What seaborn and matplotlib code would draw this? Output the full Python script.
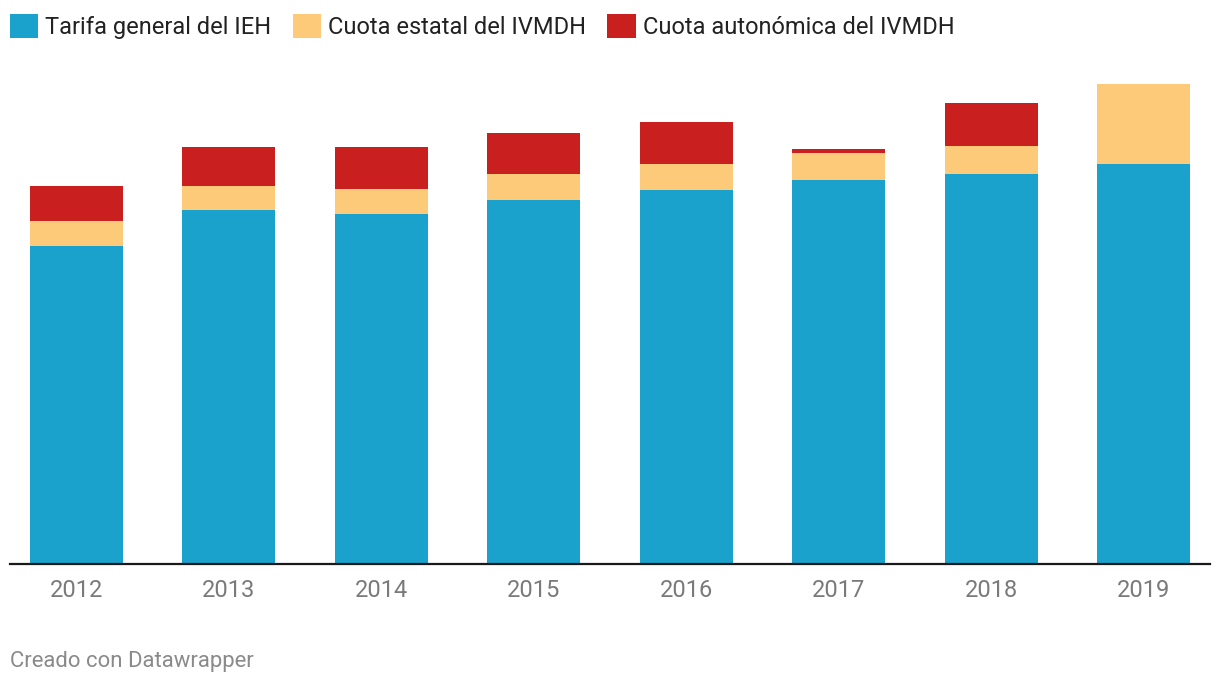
import pandas as pd
import seaborn as sns
from matplotlib import pyplot
from matplotlib.patches import Patch

years = ['2012', '2013', '2014', '2015', '2016', '2017', '2018', '2019']
tarifa_ieh = [318, 354, 350, 364, 374, 384, 390, 400]
cuota_estatal = [25, 24, 25, 26, 26, 27, 28, 80]
cuota_autonomica = [35, 39, 42, 41, 42, 4, 43, 0]

series_names = ['Tarifa general del IEH', 'Cuota estatal del IVMDH', 'Cuota autonómica del IVMDH']
colors = ['#1aa1cc', '#fdca79', '#c91f1f']

sns.set_theme(style='white')
pyplot.rcParams['font.family'] = ['Roboto', 'DejaVu Sans']

df = pd.DataFrame({
    'year': years,
    'ieh': tarifa_ieh,
    'estatal': cuota_estatal,
    'autonomica': cuota_autonomica,
})
df['lvl1'] = df['ieh']
df['lvl2'] = df['lvl1'] + df['estatal']
df['lvl3'] = df['lvl2'] + df['autonomica']

fig = pyplot.figure(figsize=(12.2, 6.88), dpi=100, facecolor='white')
ax = fig.add_axes([10 / 1220, 1 - 564 / 688, 1200 / 1220, 494 / 688])

# stacked bars: draw cumulative totals from the top layer down
for col, color in zip(['lvl3', 'lvl2', 'lvl1'], colors[::-1]):
    sns.barplot(data=df, x='year', y=col, color=color, width=0.61,
                saturation=1, ax=ax, linewidth=0)

ax.set_xlim(-0.436, 7.436)
ax.set_ylim(0, 494)
ax.set_xlabel('')
ax.set_ylabel('')
ax.set_yticks([])
ax.tick_params(axis='x', length=0, pad=11, labelsize=17, labelcolor='#7a7a7a')
for side in ['top', 'right', 'left']:
    ax.spines[side].set_visible(False)
ax.spines['bottom'].set_color('#1a1a1a')
ax.spines['bottom'].set_linewidth(1.6)

handles = [Patch(facecolor=c, edgecolor='none') for c in colors]
fig.legend(handles, series_names, loc='upper left', bbox_to_anchor=(10 / 1220, 1 - 14 / 688),
           ncol=3, frameon=False, fontsize=17, handlelength=1.2, handleheight=1.2,
           handletextpad=0.3, columnspacing=0.9, borderpad=0, borderaxespad=0,
           labelcolor='#222222')

fig.text(10 / 1220, 1 - 662 / 688, 'Creado con Datawrapper', fontsize=15.9,
         color='#8a8a8a', va='center', ha='left')

fig.savefig('out.png', dpi=100, facecolor='white')
